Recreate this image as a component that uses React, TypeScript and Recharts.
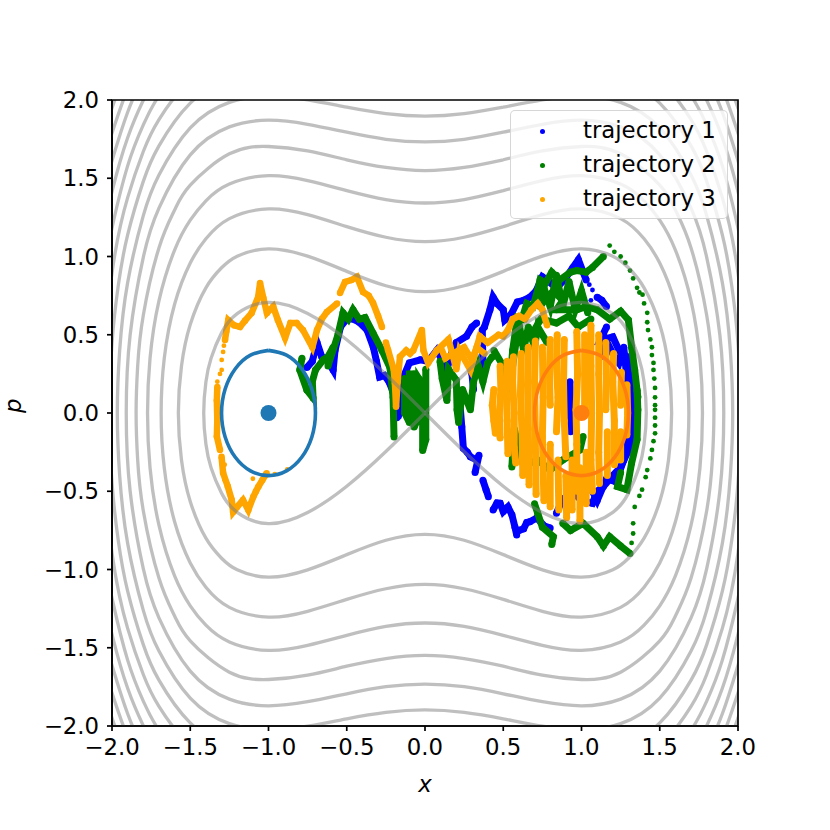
import React from 'react';
import { ComposedChart, Line, Scatter, XAxis, YAxis, Legend, ReferenceArea } from 'recharts';

type Pt = [number, number];

const ticks = [-2, -1.5, -1, -0.5, 0, 0.5, 1, 1.5, 2];
const trajectoryNames = ['trajectory 1', 'trajectory 2', 'trajectory 3'];
const trajectoryColors = ['#0000ff', '#008000', '#ffa500'];

// energy contours, upper right quarter (the plot is symmetric in x and p)
const separatrix: Pt[] = [[0, 0], [0.25, 0.246], [0.5, 0.468], [0.75, 0.636], [1, 0.707], [1.2, 0.635], [1.3, 0.512], [1.367, 0.35], [1.4, 0.198], [1.414, 0]];
const contourA: Pt[] = [[0, 0.775], [0.25, 0.813], [0.5, 0.905], [0.75, 1.002], [1, 1.049], [1.2, 1.002], [1.3, 0.928], [1.4, 0.8], [1.5, 0.565], [1.556, 0.3], [1.576, 0]];
const contourB: Pt[] = [[0, 1.095], [0.25, 1.123], [0.5, 1.191], [0.75, 1.267], [1, 1.304], [1.25, 1.242], [1.4, 1.113], [1.5, 0.958], [1.6, 0.695], [1.666, 0.35], [1.686, 0]];
const contourC: Pt[] = [[0, 1.342], [0.25, 1.364], [0.5, 1.421], [0.75, 1.485], [1, 1.517], [1.25, 1.463], [1.4, 1.356], [1.5, 1.232], [1.6, 1.041], [1.7, 0.717], [1.757, 0.35], [1.773, 0]];
const contourD: Pt[] = [[0, 1.549], [0.25, 1.569], [0.5, 1.618], [0.75, 1.675], [1, 1.703], [1.25, 1.656], [1.5, 1.456], [1.6, 1.297], [1.7, 1.055], [1.8, 0.625], [1.836, 0.3], [1.846, 0]];
const contourE: Pt[] = [[0, 1.732], [0.25, 1.749], [0.5, 1.794], [0.75, 1.845], [1, 1.871], [1.25, 1.828], [1.5, 1.649], [1.7, 1.309], [1.8, 0.995], [1.884, 0.5], [1.909, 0]];
const contourF: Pt[] = [[0, 1.897], [0.25, 1.913], [0.5, 1.954], [0.75, 2.001], [1, 2.025], [1.25, 1.985], [1.5, 1.822], [1.7, 1.521], [1.8, 1.261], [1.9, 0.833], [1.951, 0.4], [1.966, 0]];
const contourG: Pt[] = [[0, 2.049], [0.25, 2.064], [0.5, 2.102], [0.75, 2.146], [1, 2.168], [1.25, 2.131], [1.5, 1.98], [1.7, 1.707], [1.8, 1.48], [1.9, 1.138], [1.96, 0.814], [2, 0.447], [2.016, 0]];
const contourH: Pt[] = [[0, 2.191], [0.25, 2.205], [0.5, 2.24], [0.75, 2.281], [1, 2.302], [1.25, 2.268], [1.5, 2.126], [1.7, 1.875], [1.8, 1.671], [1.9, 1.376], [2, 0.894], [2.063, 0]];
const contourI: Pt[] = [[0, 2.324], [0.25, 2.337], [0.5, 2.37], [0.75, 2.409], [1, 2.429], [1.25, 2.396], [1.5, 2.263], [1.7, 2.028], [1.8, 1.841], [1.9, 1.579], [2, 1.183], [2.06, 0.8], [2.106, 0]];
const contourJ: Pt[] = [[0, 2.449], [0.25, 2.462], [0.5, 2.494], [0.75, 2.531], [1, 2.55], [1.25, 2.518], [1.5, 2.391], [1.7, 2.171], [1.8, 1.998], [1.9, 1.759], [2, 1.414], [2.09, 0.91], [2.146, 0]];
const contourK: Pt[] = [[0, 2.569], [0.5, 2.611], [1, 2.665], [1.5, 2.514], [1.7, 2.305], [1.8, 2.143], [1.9, 1.922], [2, 1.612], [2.1, 1.134], [2.184, 0]];
const contourL: Pt[] = [[0, 2.683], [0.5, 2.72], [1, 2.775], [1.5, 2.63], [1.7, 2.432], [1.8, 2.278], [1.9, 2.072], [2, 1.789], [2.12, 1.263], [2.219, 0]];
const contourM: Pt[] = [[0, 2.793], [0.5, 2.83], [1, 2.881], [1.5, 2.742], [1.8, 2.406], [1.9, 2.212], [2, 1.949], [2.15, 1.319], [2.253, 0]];
const contours = [contourA, contourB, contourC, contourD, contourE, contourF, contourG, contourH, contourI, contourJ, contourK, contourL, contourM];

const ellipseLeft: Pt[] = [[-1, 0.4], [-0.885, 0.37], [-0.788, 0.283], [-0.723, 0.153], [-0.7, 0], [-0.723, -0.153], [-0.788, -0.283], [-0.885, -0.37], [-1, -0.4], [-1.115, -0.37], [-1.212, -0.283], [-1.277, -0.153], [-1.3, 0], [-1.277, 0.153], [-1.212, 0.283], [-1.115, 0.37], [-1, 0.4]];
const ellipseRight: Pt[] = [[1, 0.4], [1.115, 0.37], [1.212, 0.283], [1.277, 0.153], [1.3, 0], [1.277, -0.153], [1.212, -0.283], [1.115, -0.37], [1, -0.4], [0.885, -0.37], [0.788, -0.283], [0.723, -0.153], [0.7, 0], [0.723, 0.153], [0.788, 0.283], [0.885, 0.37], [1, 0.4]];
const centerLeft: Pt[] = [[-1, 0]];
const centerRight: Pt[] = [[1, 0]];

// trajectories: runs are the stretches where the dots overlap, dots the loose ones
const traj1Runs: Pt[][] = [
  [[-0.755, 0.29], [-0.72, 0.33], [-0.69, 0.45], [-0.66, 0.36], [-0.62, 0.33], [-0.587, 0.275], [-0.575, 0.4], [-0.54, 0.55], [-0.5, 0.6], [-0.46, 0.6], [-0.42, 0.58], [-0.37, 0.53], [-0.33, 0.42], [-0.31, 0.33], [-0.29, 0.23], [-0.26, 0.24], [-0.23, 0.2], [-0.19, 0.1], [-0.18, -0.03]],
  [[-0.17, -0.02], [-0.15, 0.2], [-0.1, 0.32], [-0.03, 0.34], [0.02, 0.33], [0.075, 0.4], [0.14, 0.28], [0.17, 0.38], [0.2, 0.45], [0.265, 0.49], [0.3, 0.55], [0.33, 0.575]],
  [[0.31, 0.15], [0.3, 0.25], [0.36, 0.3]],
  [[0.224, 0.05], [0.235, -0.088], [0.245, -0.226], [0.27, -0.25], [0.29, -0.28], [0.33, -0.3], [0.345, -0.27], [0.32, -0.38]],
  [[0.37, -0.43], [0.39, -0.49], [0.405, -0.535]],
  [[0.435, -0.62], [0.46, -0.575], [0.48, -0.577], [0.5, -0.63], [0.53, -0.6], [0.555, -0.65], [0.575, -0.73], [0.586, -0.78]],
  [[0.6, -0.75], [0.63, -0.74], [0.65, -0.7], [0.67, -0.695], [0.715, -0.67], [0.76, -0.72], [0.8, -0.735]],
  [[0.84, -0.64], [0.88, -0.55], [0.95, -0.51], [1, -0.56], [1.07, -0.577], [1.1, -0.5], [1.14, -0.47], [1.2, -0.4], [1.25, -0.345], [1.31, -0.217], [1.33, -0.026], [1.33, 0.1], [1.31, 0.25], [1.29, 0.36], [1.24, 0.4], [1.2, 0.486], [1.12, 0.466], [1.16, 0.55]],
  [[0.95, -0.44], [1, -0.5], [1.05, -0.46], [1.1, -0.56], [1.16, -0.42], [1.22, -0.44], [1.27, -0.3], [1.29, -0.12]],
  [[1.12, 0.36], [1.16, 0.46], [1.2, 0.38], [1.24, 0.32], [1.27, 0.42], [1.29, 0.22], [1.31, 0.12]],
  [[1.03, 0.85], [0.98, 0.98], [0.945, 0.93], [0.89, 0.85], [0.84, 0.8], [0.79, 0.84], [0.75, 0.87], [0.71, 0.78], [0.67, 0.74], [0.63, 0.72], [0.59, 0.71], [0.55, 0.63], [0.51, 0.594], [0.5, 0.66], [0.46, 0.7], [0.435, 0.74], [0.415, 0.66], [0.38, 0.55], [0.366, 0.53], [0.37, 0.32]],
  [[1.1, 0.74], [1.13, 0.72], [1.16, 0.68]],
  [[0.926, 0.2], [0.93, 0.05], [0.93, -0.12]],
];
const traj1Dots: Pt[] = [[1.07, 0.786], [1.05, 0.82], [0.98, 0.92], [1.06, 0.72]];

const traj2Runs: Pt[][] = [
  [[-0.786, 0.35], [-0.8, 0.275], [-0.755, 0.147], [-0.715, 0.096], [-0.72, 0.2], [-0.7, 0.275], [-0.65, 0.34], [-0.62, 0.36], [-0.587, 0.42], [-0.62, 0.3], [-0.556, 0.5], [-0.524, 0.64], [-0.49, 0.6], [-0.46, 0.66], [-0.42, 0.6], [-0.383, 0.61], [-0.332, 0.51], [-0.275, 0.4], [-0.224, 0.29], [-0.204, 0.1], [-0.198, -0.153]],
  [[-0.13, 0.22], [-0.13, 0], [-0.1, -0.06], [-0.1, 0.25], [-0.07, 0.25], [-0.07, -0.09], [-0.04, -0.03], [-0.04, 0.22], [-0.015, 0.18], [-0.015, -0.24], [0.005, -0.17], [0.005, 0.28]],
  [[0.096, 0.33], [0.11, 0.22], [0.14, 0.08], [0.15, 0.28], [0.2, 0.21], [0.205, 0.02], [0.215, -0.06], [0.24, 0.15], [0.29, 0.02], [0.31, 0.2], [0.34, 0.3], [0.37, 0.2], [0.4, 0.32], [0.43, 0.36]],
  [[0.44, 0.4], [0.5, 0.3], [0.54, 0.15], [0.56, 0.4], [0.59, 0.61], [0.62, 0.6], [0.65, 0.7], [0.69, 0.68], [0.72, 0.786], [0.735, 0.85], [0.77, 0.83], [0.81, 0.9], [0.86, 0.85], [0.93, 0.9], [0.97, 0.91], [1.03, 0.9], [1.07, 0.93], [1.14, 1]],
  [[0.72, 0.7], [0.76, 0.8], [0.8, 0.68], [0.84, 0.88], [0.88, 0.68], [0.92, 0.84], [0.96, 0.66], [1, 0.78], [1.04, 0.64]],
  [[0.56, 0.3], [0.6, 0.58], [0.63, 0.4], [0.66, 0.55], [0.7, 0.42], [0.72, 0.55], [0.78, 0.45]],
  [[0.735, 0.68], [0.78, 0.74], [0.82, 0.78], [0.88, 0.72], [0.84, 0.66], [0.97, 0.66], [1.03, 0.68], [1.1, 0.66], [1.18, 0.6], [1.25, 0.65], [1.3, 0.594]],
  [[0.6, 0.45], [0.68, 0.5], [0.74, 0.6], [0.84, 0.575], [0.92, 0.62], [0.98, 0.55], [1.06, 0.6]],
  [[0.555, -0.345], [0.57, -0.1], [0.6, -0.22], [0.626, -0.32], [0.67, -0.32], [0.72, -0.3], [0.8, -0.364], [0.88, -0.3], [0.99, -0.236], [1.01, -0.15]],
  [[1.355, 0.147], [1.36, 0.02], [1.355, -0.17], [1.32, -0.32], [1.29, -0.49], [1.23, -0.47], [1.25, -0.38]],
  [[0.7, -0.58], [0.72, -0.64], [0.75, -0.73], [0.82, -0.79], [0.81, -0.84]],
  [[0.88, -0.705], [0.93, -0.75], [1.01, -0.705], [1.1, -0.79], [1.14, -0.85], [1.18, -0.79], [1.25, -0.85], [1.31, -0.897]],
  [[1.3, 0.594], [1.32, 0.42], [1.34, 0.275], [1.36, 0.1]],
];
const traj2Dots: Pt[] = [
  [1.18, 1.07], [1.21, 1.03], [1.25, 1], [1.28, 0.96], [1.31, 0.91], [1.33, 0.86], [1.355, 0.8], [1.37, 0.77], [1.39, 0.756], [1.4, 0.7], [1.42, 0.64], [1.42, 0.58], [1.425, 0.53], [1.44, 0.47], [1.45, 0.42], [1.45, 0.37], [1.46, 0.32], [1.46, 0.275], [1.465, 0.22], [1.47, 0.16], [1.47, 0.1], [1.47, 0.05], [1.47, 0.02], [1.47, -0.03], [1.47, -0.08], [1.47, -0.13], [1.46, -0.18], [1.45, -0.236], [1.44, -0.29], [1.42, -0.365], [1.41, -0.41], [1.387, -0.49], [1.37, -0.53], [1.34, -0.6], [1.33, -0.705], [1.33, -0.77], [1.32, -0.83],
];

const traj3Runs: Pt[][] = [
  [[-1.012, -0.385], [-1.04, -0.43], [-1.065, -0.471], [-1.08, -0.5], [-1.097, -0.535], [-1.129, -0.62], [-1.163, -0.556], [-1.2, -0.6], [-1.226, -0.633], [-1.235, -0.556], [-1.26, -0.47], [-1.29, -0.383], [-1.3, -0.28]],
  [[-1.31, -0.236], [-1.33, -0.15], [-1.327, -0.045], [-1.33, 0.08], [-1.327, 0.166]],
  [[-1.278, 0.466], [-1.27, 0.52], [-1.257, 0.594], [-1.22, 0.56], [-1.182, 0.55], [-1.15, 0.59], [-1.108, 0.639], [-1.066, 0.741], [-1.054, 0.83], [-1.033, 0.735], [-1.01, 0.639], [-0.97, 0.68], [-0.94, 0.594], [-0.894, 0.48], [-0.86, 0.575], [-0.82, 0.575], [-0.78, 0.53], [-0.72, 0.42], [-0.69, 0.53], [-0.66, 0.6], [-0.627, 0.645], [-0.562, 0.7]],
  [[-0.543, 0.767], [-0.511, 0.837], [-0.47, 0.85], [-0.435, 0.87], [-0.396, 0.773], [-0.36, 0.75], [-0.332, 0.703], [-0.3, 0.62], [-0.275, 0.55]],
  [[-0.25, 0.45], [-0.236, 0.402], [-0.2, 0.28], [-0.192, 0.19], [-0.185, 0.04], [-0.175, 0.2], [-0.16, 0.36], [-0.12, 0.4], [-0.096, 0.38], [-0.075, 0.4], [-0.02, 0.53], [-0.01, 0.4], [0.02, 0.32], [0.075, 0.4], [0.15, 0.47], [0.2, 0.28], [0.22, 0.4], [0.29, 0.275], [0.35, 0.49], [0.4, 0.45], [0.47, 0.5], [0.5, 0.49], [0.53, 0.53], [0.56, 0.6], [0.6, 0.62], [0.64, 0.6], [0.68, 0.66], [0.72, 0.7], [0.75, 0.66], [0.78, 0.56]],
  [[0.1, 0.42], [0.13, 0.35], [0.18, 0.38], [0.25, 0.42], [0.3, 0.34], [0.33, 0.42], [0.38, 0.38]],
];
const traj3Bands: Pt[][] = [
  [[0.44, 0.15], [0.43, 0.05], [0.44, -0.05], [0.45, -0.13]],
  [[0.48, 0.3], [0.485, 0.15], [0.475, 0], [0.48, -0.16]],
  [[0.525, 0.33], [0.52, 0.12], [0.525, -0.05], [0.53, -0.26]],
  [[0.565, 0.36], [0.56, 0.2], [0.57, 0], [0.57, -0.22], [0.58, -0.32]],
  [[0.615, 0.38], [0.61, 0.12], [0.62, -0.12], [0.625, -0.4]],
  [[0.66, 0.42], [0.655, 0.18], [0.66, -0.1], [0.665, -0.46]],
  [[0.705, 0.46], [0.7, 0.2], [0.705, -0.18], [0.71, -0.52]],
  [[0.75, 0.42], [0.755, 0.1], [0.75, -0.15], [0.76, -0.56]],
  [[0.8, 0.47], [0.795, 0.25], [0.8, 0.05]],
  [[0.8, -0.2], [0.8, -0.6]],
  [[0.845, 0.5], [0.84, 0.3], [0.85, 0.1], [0.84, -0.12]],
  [[0.85, -0.3], [0.855, -0.62]],
  [[0.89, 0.47], [0.885, 0.2], [0.89, -0.05], [0.9, -0.28]],
  [[0.9, -0.4], [0.905, -0.67]],
  [[0.97, 0.52], [0.975, 0.25], [0.965, 0.02], [0.97, -0.2], [0.97, -0.5]],
  [[0.99, -0.35], [0.99, -0.69]],
  [[0.94, -0.3], [0.94, -0.62]],
  [[1.02, 0.5], [1.02, 0.25], [1.02, 0]],
  [[1.03, -0.25], [1.03, -0.58]],
  [[1.06, 0.56], [1.06, 0.3], [1.065, 0], [1.06, -0.3], [1.07, -0.5]],
  [[1.11, 0.5], [1.11, 0.25], [1.115, 0], [1.11, -0.25], [1.115, -0.45]],
  [[1.155, 0.45], [1.16, 0.2], [1.155, 0.02]],
  [[1.165, -0.12], [1.165, -0.4]],
  [[1.205, 0.38], [1.2, 0.2], [1.21, -0.05], [1.21, -0.33]],
  [[1.255, 0.26], [1.25, 0.05]],
  [[1.25, -0.12], [1.25, -0.3]],
  [[1.29, 0.18], [1.295, 0], [1.29, -0.14]],
];
const traj3Dots: Pt[] = [
  [-1.28, -0.33], [-1.28, -0.43], [-1.25, -0.52], [-1.1, -0.42], [-1.327, 0.2], [-1.299, 0.275], [-1.31, 0.25], [-1.299, 0.339], [-1.29, 0.39], [-1.285, 0.43], [-0.88, -0.36], [-0.96, -0.39],
];

const toRows = (pts: Pt[]) => pts.map(([x, y]) => ({ x, y }));

// walks the quarter round all four quadrants, starting where the curve is straightest (x = 0.5)
const fullLoop = (q: Pt[]): Pt[] => {
  const back = [...q].reverse();
  const loop: Pt[] = [
    ...q,
    ...back.slice(1).map(([x, p]): Pt => [x, -p]),
    ...q.slice(1).map(([x, p]): Pt => [-x, -p]),
    ...back.slice(1, -1).map(([x, p]): Pt => [-x, p]),
  ];
  const start = q.findIndex(([x]) => x === 0.5);
  return [...loop.slice(start), ...loop.slice(0, start + 1)];
};
const rightLobe = (q: Pt[]): Pt[] => [...q, ...[...q].reverse().slice(1).map(([x, p]): Pt => [x, -p])];
const leftLobe = (q: Pt[]): Pt[] => rightLobe(q).map(([x, p]): Pt => [-x, p]);

const contourPaths = [rightLobe(separatrix), leftLobe(separatrix), ...contours.map(fullLoop)];

const dot = (r: number, fill: string) => (props: any) => <circle cx={props.cx} cy={props.cy} r={r} fill={fill} />;

const FONT = '"DejaVu Sans", sans-serif';
const FONT_SIZE = 22.8;
const formatTick = (v: number) => v.toFixed(1).replace('-', '\u2212');

const LegendBox = () => (
  <div
    style={{
      position: 'relative', width: 218, height: 109, boxSizing: 'border-box',
      background: 'rgba(255,255,255,0.8)', border: '1.7px solid rgba(204,204,204,0.8)', borderRadius: 5,
      fontFamily: FONT, fontSize: FONT_SIZE, color: '#000',
    }}
  >
    {trajectoryNames.map((name, i) => (
      <React.Fragment key={name}>
        <span style={{ position: 'absolute', left: 29, top: 18 + i * 34, width: 5, height: 5, borderRadius: '50%', background: trajectoryColors[i] }} />
        <span style={{ position: 'absolute', left: 72, top: 6 + i * 34, whiteSpace: 'nowrap', lineHeight: '26px' }}>{name}</span>
      </React.Fragment>
    ))}
  </div>
);

const runSeries = (runs: Pt[][], color: string, id: string, width: number) =>
  runs.map((run, i) => (
    <Scatter
      key={`${id}-${i}`}
      data={toRows(run)}
      fill={color}
      line={{ stroke: color, strokeWidth: width }}
      lineType="joint"
      shape={dot(width / 2, color)}
      isAnimationActive={false}
    />
  ));

const App = () => (
  <div style={{ position: 'absolute', left: 0, top: 0 }}>
    <ComposedChart width={830} height={830} margin={{ top: 100, right: 92, bottom: 0, left: 0 }}>
      <XAxis
        type="number" dataKey="x" domain={[-2, 2]} ticks={ticks} allowDataOverflow height={104}
        tickFormatter={formatTick}
        tick={{ fill: '#000', fontSize: FONT_SIZE, fontFamily: FONT }} tickSize={5} tickMargin={8}
        axisLine={{ stroke: '#000', strokeWidth: 1.7 }} tickLine={{ stroke: '#000', strokeWidth: 1.7 }}
        interval={0}
        label={{ value: 'x', position: 'insideBottom', offset: 38, fill: '#000', fontSize: FONT_SIZE, fontFamily: FONT, fontStyle: 'italic' }}
      />
      <YAxis
        type="number" dataKey="y" domain={[-2, 2]} ticks={ticks} allowDataOverflow width={112}
        tickFormatter={formatTick}
        tick={{ fill: '#000', fontSize: FONT_SIZE, fontFamily: FONT }} tickSize={5} tickMargin={8}
        axisLine={{ stroke: '#000', strokeWidth: 1.7 }} tickLine={{ stroke: '#000', strokeWidth: 1.7 }}
        interval={0}
        label={{ value: 'p', angle: -90, position: 'insideLeft', offset: 13, fill: '#000', fontSize: FONT_SIZE, fontFamily: FONT, fontStyle: 'italic' }}
      />
      {runSeries(traj1Runs, trajectoryColors[0], 't1', 7)}
      <Scatter data={toRows(traj1Dots)} shape={dot(2.4, trajectoryColors[0])} isAnimationActive={false} />
      {runSeries(traj2Runs, trajectoryColors[1], 't2', 7)}
      <Scatter data={toRows(traj2Dots)} shape={dot(2.4, trajectoryColors[1])} isAnimationActive={false} />
      {runSeries(traj3Runs, trajectoryColors[2], 't3', 6.5)}
      {runSeries(traj3Bands, trajectoryColors[2], 't3b', 7)}
      <Scatter data={toRows(traj3Dots)} shape={dot(2.4, trajectoryColors[2])} isAnimationActive={false} />
      {contourPaths.map((path, i) => (
        <Line
          key={i} data={toRows(path)} dataKey="y" type="natural" stroke="#808080" strokeOpacity={0.5}
          strokeWidth={3.3} dot={false} activeDot={false} isAnimationActive={false} zIndex={700}
        />
      ))}
      <Line data={toRows(ellipseLeft)} dataKey="y" type="natural" stroke="#1f77b4" strokeWidth={3.6} dot={false} activeDot={false} isAnimationActive={false} zIndex={710} />
      <Line data={toRows(ellipseRight)} dataKey="y" type="natural" stroke="#ff7f0e" strokeWidth={3.6} dot={false} activeDot={false} isAnimationActive={false} zIndex={710} />
      <Scatter data={toRows(centerLeft)} shape={dot(8, '#1f77b4')} isAnimationActive={false} zIndex={720} />
      <Scatter data={toRows(centerRight)} shape={dot(8, '#ff7f0e')} isAnimationActive={false} zIndex={720} />
      <ReferenceArea x1={-2} x2={2} y1={-2} y2={2} fill="none" stroke="#000" strokeWidth={1.7} ifOverflow="visible" zIndex={730} />
      <Legend
        layout="horizontal" verticalAlign="middle" align="center"
        content={() => <LegendBox />}
        wrapperStyle={{ position: 'absolute', left: 510, top: 110, width: 218, height: 109 }}
      />
    </ComposedChart>
  </div>
);

export default App;
